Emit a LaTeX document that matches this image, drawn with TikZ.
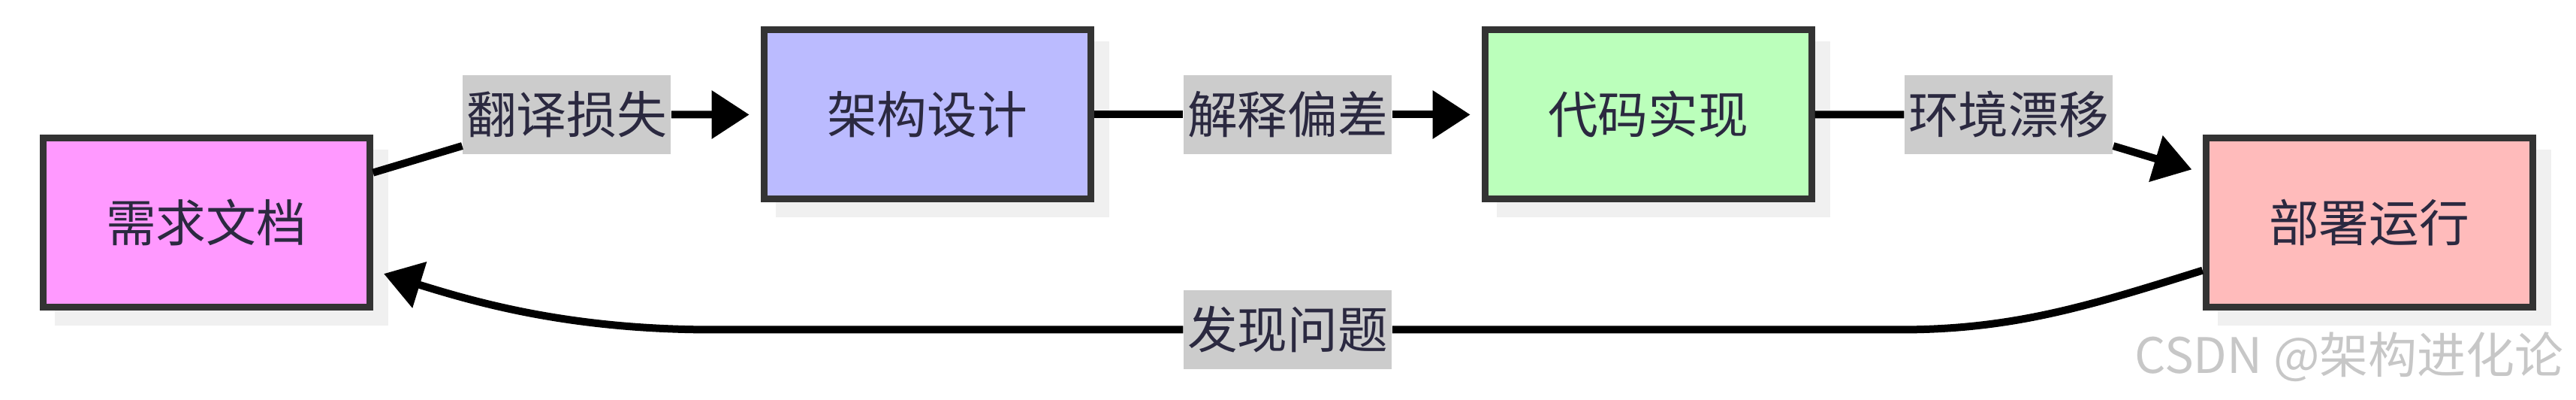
\documentclass[tikz,border=0pt]{standalone}
\usepackage{fontspec}
\setmainfont{Noto Sans CJK SC}
\usetikzlibrary{arrows.meta,backgrounds}
\definecolor{ink}{HTML}{2B2940}
\definecolor{boxline}{HTML}{333333}
\definecolor{lblfill}{HTML}{CCCCCC}
\definecolor{shadowgray}{HTML}{F0F0F0}
\definecolor{reqfill}{HTML}{FF99FF}
\definecolor{archfill}{HTML}{BBBBFF}
\definecolor{codefill}{HTML}{BBFFBB}
\definecolor{runfill}{HTML}{FFBBBB}

\begin{document}
\begin{tikzpicture}[>={Triangle[length=0.5cm,width=0.62cm]},
  box/.style={draw=boxline,line width=0.09cm,minimum width=4.35cm,minimum height=2.25cm,
    text=ink,font=\fontsize{19}{19}\selectfont},
  lbl/.style={fill=lblfill,inner xsep=0.05cm,inner ysep=0pt,minimum height=1.05cm,
    text=ink,font=\fontsize{19}{19}\selectfont},
  flow/.style={line width=0.1cm,->,shorten >=0.15cm}]
\useasboundingbox (0,0) rectangle (34.30,5.32);
% boxes
\node[box,fill=reqfill]  (req)  at (2.747,2.36)   {需求文档};
\node[box,fill=archfill] (arch) at (12.347,3.795) {架构设计};
\node[box,fill=codefill] (code) at (21.947,3.795) {代码实现};
\node[box,fill=runfill]  (run)  at (31.547,2.36)  {部署运行};
\begin{scope}[on background layer]
\foreach \b in {req,arch,code,run}
  \fill[shadowgray] ([shift={(0.2,-0.2)}]\b.south west) rectangle ([shift={(0.2,-0.2)}]\b.north east);
\end{scope}
% edge labels
\node[lbl] (l1) at (7.547,3.795)  {翻译损失};
\node[lbl] (l2) at (17.147,3.795) {解释偏差};
\node[lbl] (l3) at (26.747,3.795) {环境漂移};
\node[lbl] (l4) at (17.147,0.935) {发现问题};
\coordinate (R) at (25.3,0.935);
\coordinate (L) at (9.5,0.935);
% connectors
\draw[flow] (req) -- (l1) -- (arch);
\draw[flow] (arch) -- (l2) -- (code);
\draw[flow] (code) -- (l3) -- (run);
\draw[flow] (run.196) .. controls (27.80,1.246) and (26.8,0.935) .. (R) -- (l4)
  -- (L) .. controls (7.6,0.935) and (6.368,1.289) .. (req.-16);
\node[anchor=east,text=black!22,font=\fontsize{18.5}{18.5}\selectfont] (mark) at (34.26,0.57) {CSDN @架构进化论};
\end{tikzpicture}
\end{document}
